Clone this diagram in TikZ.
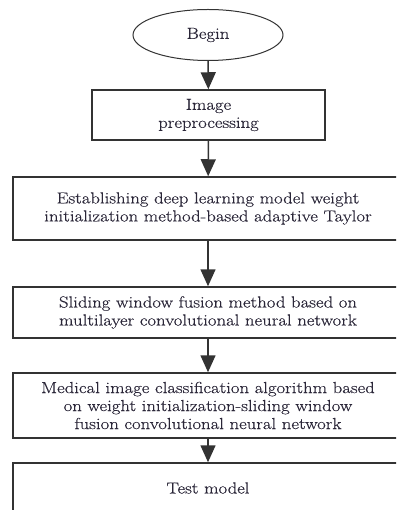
\documentclass[tikz,border=0pt]{standalone}
\usepackage{fontspec}
\setmainfont{Latin Modern Roman}[FakeStretch=1.17,FakeBold=0.4]
\usetikzlibrary{shapes.geometric,arrows.meta}
\definecolor{linec}{HTML}{333333}
\definecolor{txtc}{HTML}{2A2638}
\begin{document}
\begin{tikzpicture}[x=1pt,y=-1pt,
  box/.style={draw=linec,line width=1.5pt,rectangle,align=center,inner sep=0pt,
    text=txtc,font=\fontsize{16}{18}\selectfont},
  oval/.style={draw=linec,line width=1pt,ellipse,inner sep=0pt,text=txtc,
    font=\fontsize{16}{18}\selectfont},
  arr/.style={draw=linec,line width=1.5pt,-{Triangle[length=17pt,width=15pt]}}]
\useasboundingbox (0,0) rectangle (396,510);
\clip (0,0) rectangle (396,510);
\node[oval,minimum width=150,minimum height=51] (begin) at (208,35) {Begin};
\node[box,minimum width=233,minimum height=50] (pre) at (208.5,115) {Image\\preprocessing};
\node[box,minimum width=390,minimum height=63] (est) at (208,208.5) {Establishing deep learning model weight\\initialization method-based adaptive Taylor};
\node[box,minimum width=390,minimum height=51] (slide) at (208,312.5) {Sliding window fusion method based on\\multilayer convolutional neural network};
\node[box,minimum width=390,minimum height=65] (med) at (208,405.5) {Medical image classification algorithm based\\on weight initialization-sliding window\\fusion convolutional neural network};
\node[box,minimum width=390,minimum height=50] (test) at (208,488) {Test model};
\draw[arr] (begin) -- (pre);
\draw[arr] (pre) -- (est);
\draw[arr] (est) -- (slide);
\draw[arr] (slide) -- (med);
\draw[arr] (med) -- (test);
\end{tikzpicture}
\end{document}
